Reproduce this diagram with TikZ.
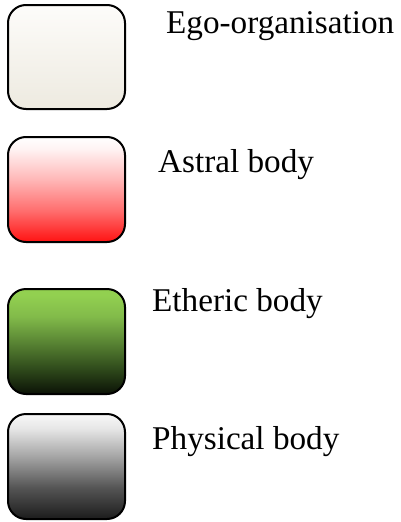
\documentclass[tikz,border=0pt]{standalone}
\usepackage{fontspec}
\setmainfont{Liberation Serif}

% colour ramps for the four sheaths (bottom stop first)
\definecolor{egoTop}{HTML}{FDFCFA}
\definecolor{egoBot}{HTML}{EDEAE0}
\pgfdeclareverticalshading{egoshade}{100bp}{%
  color(0bp)=(egoBot); color(25bp)=(egoBot);
  color(75bp)=(egoTop); color(100bp)=(egoTop)}

\definecolor{astA}{HTML}{FF1212}
\definecolor{astB}{HTML}{FF6E6E}
\definecolor{astC}{HTML}{FFB8B8}
\definecolor{astD}{HTML}{FFF2F2}
\pgfdeclareverticalshading{astralshade}{100bp}{%
  color(0bp)=(astA); color(25bp)=(astA); color(40bp)=(astB);
  color(55bp)=(astC); color(69bp)=(astD); color(75bp)=(white);
  color(100bp)=(white)}

\definecolor{ethA}{HTML}{0B1206}
\definecolor{ethB}{HTML}{2F4A1B}
\definecolor{ethC}{HTML}{5A8634}
\definecolor{ethD}{HTML}{82BB4A}
\definecolor{ethE}{HTML}{92D050}
\pgfdeclareverticalshading{ethericshade}{100bp}{%
  color(0bp)=(ethA); color(25bp)=(ethA); color(37bp)=(ethB);
  color(50bp)=(ethC); color(62bp)=(ethD); color(72bp)=(ethE);
  color(100bp)=(ethE)}

\definecolor{phyA}{HTML}{1C1C1C}
\definecolor{phyB}{HTML}{555555}
\definecolor{phyC}{HTML}{A6A6A6}
\definecolor{phyD}{HTML}{E6E6E6}
\definecolor{phyE}{HTML}{F8F8F8}
\pgfdeclareverticalshading{physicalshade}{100bp}{%
  color(0bp)=(phyA); color(25bp)=(phyA); color(40bp)=(phyB);
  color(55bp)=(phyC); color(68bp)=(phyD); color(75bp)=(phyE);
  color(100bp)=(phyE)}

\tikzset{
  sheath/.style={draw=black, line width=2pt, rounded corners=18pt,
    minimum width=117pt, minimum height=105pt, inner sep=0pt},
  label/.style={anchor=base west, inner sep=0pt,
    font=\fontsize{33.2}{38}\selectfont}
}

\begin{document}
\begin{tikzpicture}[x=1pt,y=1pt]
  \useasboundingbox (0,0) rectangle (401,-522);

  \node[sheath, minimum height=104pt, shading=egoshade] (ego) at (66.5,-57) {};
  \node[sheath, shading=astralshade] (astral) at (66.5,-189.5) {};
  \node[sheath, shading=ethericshade] (etheric) at (66.5,-341.5) {};
  \node[sheath, shading=physicalshade] (physical) at (66.5,-466.5) {};

  \node[label] (egotext) at (166,-33) {Ego-organisation};
  \node[label] (astraltext) at (158,-172) {Astral body};
  \node[label] (ethertext) at (152,-311) {Etheric body};
  \node[label] (phystext) at (152,-449) {Physical body};
\end{tikzpicture}
\end{document}
